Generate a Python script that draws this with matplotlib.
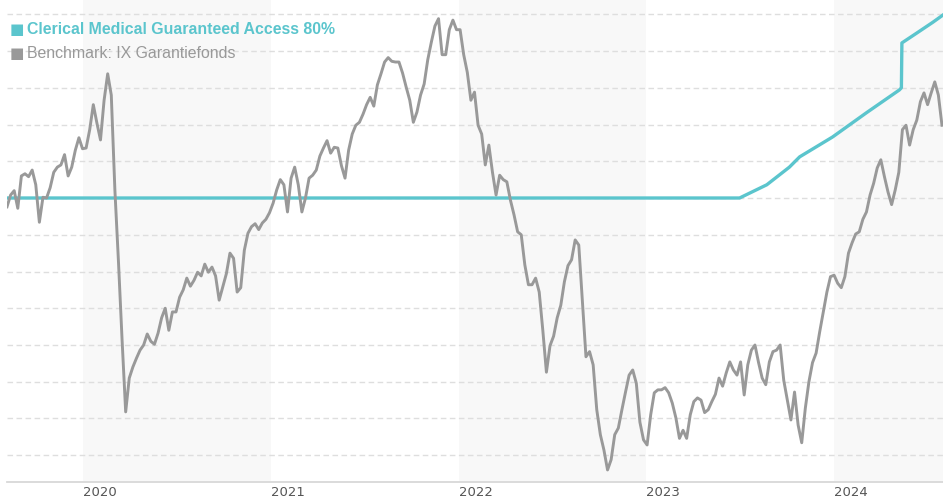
import numpy as np
import pandas as pd
import matplotlib
matplotlib.use('agg')
import matplotlib.pyplot as plt

# weekly benchmark values (index), first week 2019-08-06
benchmark = [
    98.8, 100.4, 101.0, 98.6, 103.0, 103.3, 102.9, 103.8, 101.8, 96.7, 100.1, 100.0, 101.4,
    103.5, 104.2, 104.5, 105.9, 103.0, 104.2, 106.5, 108.2, 106.7, 106.8, 109.3, 112.7, 110.2,
    107.9, 113.3, 116.9, 114.0, 101.1, 91.3, 80.7, 70.9, 75.5, 77.0, 78.2, 79.3, 80.0,
    81.5, 80.5, 80.1, 81.6, 83.7, 85.0, 82.0, 84.5, 84.5, 86.5, 87.5, 89.1, 88.0,
    88.8, 89.9, 89.4, 91.0, 89.9, 90.6, 89.4, 86.1, 87.9, 89.7, 92.5, 91.8, 87.2,
    87.8, 92.9, 95.2, 96.1, 96.5, 95.7, 96.6, 97.1, 98.0, 99.3, 101.1, 102.5, 101.8,
    98.1, 102.7, 104.2, 101.8, 98.1, 100.0, 102.7, 103.1, 103.8, 105.7, 106.8, 107.8, 106.1,
    106.9, 106.8, 104.4, 102.7, 106.5, 108.7, 109.9, 110.3, 111.4, 112.7, 113.7, 112.5, 115.4,
    116.9, 118.5, 119.1, 118.6, 118.5, 118.5, 117.0, 115.1, 113.3, 110.3, 111.7, 114.0, 115.5,
    118.8, 121.2, 123.4, 124.4, 119.5, 119.5, 122.9, 124.2, 122.9, 122.9, 119.5, 117.1, 113.3,
    114.4, 109.9, 108.7, 104.5, 107.2, 103.5, 100.4, 103.1, 102.5, 102.2, 99.7, 97.7, 95.4,
    95.0, 90.9, 88.2, 88.2, 89.1, 87.2, 82.0, 76.3, 79.9, 81.2, 83.7, 85.4, 88.6,
    90.8, 91.6, 94.3, 93.6, 86.1, 78.4, 79.1, 77.3, 71.2, 67.8, 65.7, 63.0, 64.4,
    67.8, 68.7, 71.2, 73.6, 75.9, 76.6, 74.8, 69.5, 67.1, 66.4, 70.5, 73.5, 73.9,
    73.9, 74.2, 73.5, 72.1, 70.1, 67.3, 68.4, 67.3, 70.5, 72.3, 72.8, 72.5, 70.8,
    71.2, 72.3, 73.3, 75.5, 74.4, 76.2, 77.7, 76.6, 75.9, 77.7, 73.2, 77.3, 79.3,
    80.0, 77.6, 75.5, 74.6, 77.7, 79.1, 79.3, 80.0, 75.2, 72.5, 69.8, 73.6, 69.1,
    66.7, 71.4, 75.0, 77.6, 78.9, 81.8, 84.5, 87.2, 89.3, 89.5, 88.4, 87.8, 89.3,
    92.5, 93.9, 95.1, 95.4, 97.1, 98.1, 100.4, 102.0, 104.1, 105.2, 102.9, 100.8, 99.1,
    101.1, 103.5, 109.3, 109.9, 107.2, 109.3, 110.6, 113.1, 114.3, 112.7, 114.3, 115.8, 114.0,
    109.9,
]
bench_dates = pd.date_range('2019-08-06', periods=len(benchmark), freq='7D')

fund_dates = pd.to_datetime([
    '2019-08-06', '2023-07-02', '2023-08-24', '2023-10-07', '2023-10-27', '2023-12-30',
    '2024-03-05', '2024-05-08', '2024-05-12', '2024-05-13', '2024-06-10', '2024-07-12',
    '2024-08-01',
])
fund = [100.0, 100.0, 101.8, 104.2, 105.6, 108.3, 111.6, 114.7, 115.0, 121.1, 122.4, 123.9, 124.9]

years = [2020, 2021, 2022, 2023, 2024]
shaded_years = [2020, 2022, 2024]

fund_name = 'Clerical Medical Guaranteed Access 80%'
bench_name = 'Benchmark: IX Garantiefonds'

teal = '#5bc5cd'
grey = '#999999'

fig = plt.figure(figsize=(9.43, 5.0), dpi=100)
ax = fig.add_axes([7 / 943, 18 / 500, 936 / 943, 482 / 500])

x_start = pd.Timestamp('2019-08-06')
x_end = pd.Timestamp('2024-08-01')

for yr in shaded_years:
    ax.axvspan(pd.Timestamp(f'{yr}-01-01'), min(pd.Timestamp(f'{yr + 1}-01-01'), x_end),
               color='#f8f8f8', lw=0, zorder=0)

for v in np.arange(65, 126, 5):
    ax.axhline(v, color='#dedede', lw=1, ls=(0, (4, 2.5)), zorder=1)

ax.plot(fund_dates, fund, color=teal, lw=2.4, zorder=3, solid_joinstyle='round')
ax.plot(bench_dates, benchmark, color=grey, lw=2.1, zorder=4, solid_joinstyle='round')

ax.set_xlim(x_start, x_end)
ax.set_ylim(61.36, 126.94)

for s in ['top', 'right', 'left']:
    ax.spines[s].set_visible(False)
ax.spines['bottom'].set_color('#d8d8d8')
ax.spines['bottom'].set_linewidth(1.3)
ax.set_yticks([])
ax.set_xticks([pd.Timestamp(f'{y}-01-01') for y in years])
ax.set_xticklabels([str(y) for y in years], fontsize=9.5, color='#555555',
                   family='DejaVu Sans', ha='left')
ax.tick_params(axis='x', length=0, pad=3)

# legend
fig.text(10 / 943, 1 - 30 / 500, '\u25a0', color=teal, fontsize=11,
         family='DejaVu Sans', va='center', ha='left')
fig.text(27 / 943, 1 - 30 / 500, fund_name, color=teal, fontsize=11.4,
         family='Liberation Sans', weight='bold', va='center', ha='left')
fig.text(10 / 943, 1 - 53 / 500, '\u25a0', color=grey, fontsize=11,
         family='DejaVu Sans', va='center', ha='left')
fig.text(27 / 943, 1 - 53 / 500, bench_name, color=grey, fontsize=11.4,
         family='Liberation Sans', va='center', ha='left')

fig.savefig('out.png', dpi=100)
